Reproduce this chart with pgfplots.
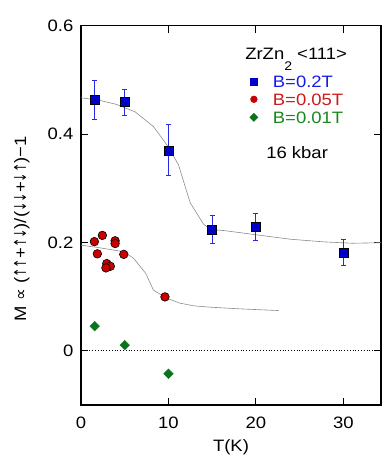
\documentclass[border=0pt]{standalone}
\usepackage{pgfplots}
\pgfplotsset{compat=1.18}
\usepackage{fontspec}
\setmainfont[FakeStretch=1.12]{Liberation Sans}
\newfontfamily\sym[FakeStretch=0.68]{DejaVu Sans}
\newfontfamily\symw{DejaVu Sans}
\definecolor{mblue}{RGB}{0,0,200}
\definecolor{ebar}{RGB}{40,40,230}
\definecolor{tblue}{RGB}{25,25,230}
\definecolor{mred}{RGB}{200,0,0}
\definecolor{tred}{RGB}{205,25,25}
\definecolor{mgreen}{RGB}{10,115,30}
\definecolor{tgreen}{RGB}{25,135,30}
\begin{document}
\fontsize{16.5}{19}\selectfont
\begin{tikzpicture}
\begin{axis}[
  scale only axis, width=300pt, height=379.3pt,
  xmin=0, xmax=34.3, ymin=-0.1, ymax=0.6,
  xtick={0,10,20,30}, ytick={0,0.2,0.4,0.6},
  yticklabels={0,0.2,0.4,0.6},
  tick align=inside, major tick length=7pt,
  axis line style={line width=1.4pt},
  every tick/.style={black, line width=1.1pt},
  /pgf/number format/assume math mode=true,
  ticklabel style={font=\fontsize{16.5}{19}\selectfont},
  xticklabel style={yshift=-6pt},
  yticklabel style={xshift=-2pt},
  xlabel={T(K)},
  xlabel style={at={(axis description cs:0.5,-0.111)}, anchor=center},
  ylabel={M {\symw ∝} ({\sym ↑↑}+{\sym ↑↓})/({\sym ↓↓}+{\sym ↓↑})−1},
  ylabel style={at={(axis description cs:-0.197,0.465)}, anchor=center, rotate=0},
  legend cell align=left,
  legend style={draw=none, fill=none, at={(axis description cs:0.552,0.875)}, anchor=north west,
    nodes={inner sep=0pt, text height=12pt, text depth=0pt},
    row sep=6pt, font=\fontsize{16.5}{19}\selectfont},
  legend image code/.code={\draw[#1] plot coordinates {(0pt,0pt)}; \path[draw=none,fill=none] (-3.5pt,0pt) -- (19pt,0pt);},
]
% zero line
\addplot[black, dotted, line width=0.8pt, forget plot] coordinates {(0,0) (34.3,0)};
% guide curves
\addplot[gray!90, line width=0.6pt, forget plot] coordinates {
(0,0.467) (2.18,0.462) (4.0,0.455) (6.19,0.441) (8.28,0.414) (10,0.376) (11.15,0.343)
(12.49,0.273) (14.0,0.234) (14.8,0.224) (16.3,0.222) (18.2,0.218) (20.1,0.214)
(23.9,0.206) (27.8,0.201) (31,0.1985) (34.3,0.1995)};
\addplot[gray!90, line width=0.6pt, forget plot] coordinates {
(0,0.195) (1.8,0.191) (4.85,0.183) (6.0,0.171) (7.4,0.143) (8.28,0.112) (9.8,0.097)
(11.3,0.088) (12.9,0.083) (14.8,0.0805) (18.2,0.0774) (22.6,0.0743)};
% B=0.2T
\addplot[only marks, mark=square*, mark size=4.5pt, mark options={fill=mblue, draw=black, line width=0.6pt}, forget plot,
  error bars/.cd, y dir=both, y explicit,
  error bar style={ebar, line width=0.9pt},
  error mark options={rotate=90, ebar, mark size=2.5pt, line width=0.9pt}]
  coordinates {
  (1.57,0.4636) +- (0,0.036)
  (5.0,0.459) +- (0,0.024)
  (10.0,0.370) +- (0,0.047)
  (15.0,0.224) +- (0,0.025)
  (20.0,0.229) +- (0,0.025)
  (30.0,0.181) +- (0,0.024)
};
\addlegendimage{only marks, mark=square*, mark size=3.4pt, mark options={fill=mblue, draw=mblue}}
\addlegendentry{\textcolor{tblue}{B=0.2T}}
% B=0.05T
\addplot[only marks, mark=*, mark size=4.3pt, mark options={fill=mred, draw=black, line width=0.6pt}, forget plot]
  coordinates {
  (1.53,0.2015) (2.44,0.213) (1.87,0.179) (3.9,0.203) (3.9,0.198)
  (2.95,0.161) (3.35,0.156) (2.85,0.153) (4.89,0.178) (9.6,0.0995)
};
\addlegendimage{only marks, mark=*, mark size=3.4pt, mark options={fill=mred, draw=mred}}
\addlegendentry{\textcolor{tred}{B=0.05T}}
% B=0.01T
\addplot[only marks, mark=square*, mark size=3.4pt, mark options={rotate=45, fill=mgreen, draw=mgreen}, forget plot]
  coordinates {
  (1.57,0.0455) (5.0,0.0105) (10.0,-0.0424)
};
\addlegendimage{only marks, mark=square*, mark size=2.9pt, mark options={rotate=45, fill=mgreen, draw=mgreen}}
\addlegendentry{\textcolor{tgreen}{B=0.01T}}
\node[anchor=base west, inner sep=0pt] at (axis description cs:0.547,0.911)
  {ZrZn\raisebox{-11pt}{\fontsize{12.5}{12}\selectfont 2} <111>};
\node[anchor=base west, inner sep=0pt] at (axis description cs:0.617,0.650) {16 kbar};
\end{axis}
\pgfresetboundingbox
\path ([shift={(-81pt,-52pt)}]current axis.south west) rectangle ([shift={(1pt,25.7pt)}]current axis.north east);
\end{tikzpicture}
\end{document}
